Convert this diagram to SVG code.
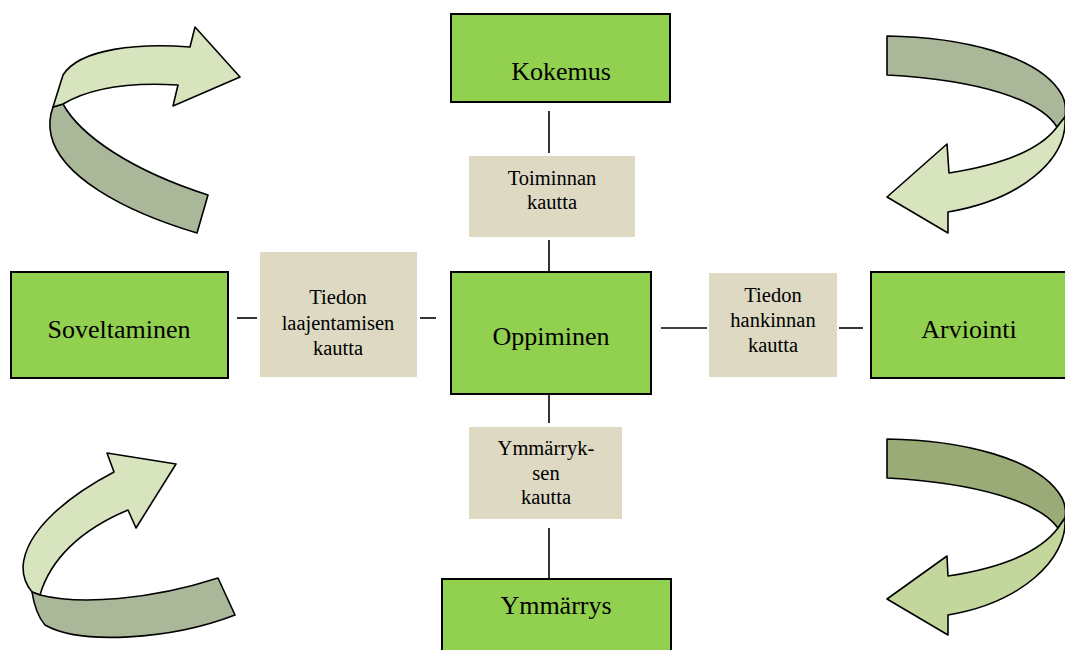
<svg xmlns="http://www.w3.org/2000/svg" width="1065" height="650" viewBox="0 0 1065 650">
<style>
.main{fill:#92d050;stroke:#000;stroke-width:2}
.lab{fill:#ddd9c3}
.mt{font-family:"Liberation Serif","Times New Roman",serif;font-size:26px;fill:#000;text-anchor:middle}
.lt{font-family:"Liberation Serif","Times New Roman",serif;font-size:20.5px;fill:#000;text-anchor:middle}
.con{stroke:#000;stroke-width:1.6;fill:none}
.ar{stroke:#000;stroke-width:1.6;stroke-linejoin:round}
.d1{fill:#aab899}
.l1{fill:#d7e4bd}
.d2{fill:#9bab78}
.l2{fill:#c3d69b}
</style>
<rect width="1065" height="650" fill="#fff"/>
<g id="connectors">
<line class="con" x1="549" y1="111" x2="549" y2="153"/>
<line class="con" x1="549" y1="240" x2="549" y2="272"/>
<line class="con" x1="237" y1="318" x2="257" y2="318"/>
<line class="con" x1="420" y1="318" x2="436" y2="318"/>
<line class="con" x1="661" y1="328" x2="707" y2="328"/>
<line class="con" x1="839" y1="328" x2="863" y2="328"/>
<line class="con" x1="549" y1="394" x2="549" y2="423"/>
<line class="con" x1="549" y1="528" x2="549" y2="579"/>
</g>
<g id="arrow-top-left">
<path class="ar d1" d="M53,107 L63,104 C80,135 130,170 208,195 L197,233 C120,210 60,175 51,135 C49,125 50,115 53,107 Z"/>
<path class="ar l1" d="M190,47 C140,43 80,48 63,75 L53,107 L63,104 C90,88 130,82 178,85 L173,106 L240,77 L195,27 Z"/>
</g>
<g id="arrow-top-right">
<path class="ar d1" d="M887,36 C960,37 1040,55 1062,95 C1066,103 1066,110 1065,117 L1057,127 C1040,100 980,80 887,75 Z"/>
<path class="ar l1" d="M1057,127 L1065,117 C1068,160 1020,200 948,212 L948,233 L887,197 L947,144 L949,173 C1000,165 1040,150 1057,127 Z"/>
</g>
<g id="arrow-bottom-left">
<path class="ar l1" d="M114,472 C70,495 25,530 23,567 C23,577 27,586 32,592 L40,595 C50,560 80,530 128,510 L136,528 L176,464 L107,453 Z"/>
<path class="ar d1" d="M32,592 L40,595 C80,605 150,600 218,578 L235,615 C170,640 80,645 45,625 C38,617 34,605 32,592 Z"/>
</g>
<g id="arrow-bottom-right">
<path class="ar d2" d="M887,439 C960,440 1040,458 1062,498 C1066,506 1066,512 1065,518 L1058,528 C1040,503 980,483 887,478 Z"/>
<path class="ar l2" d="M1058,528 L1065,518 C1068,560 1020,603 948,615 L948,635 L887,599 L947,556 L948,576 C1000,568 1040,552 1058,528 Z"/>
</g>
<g id="kokemus">
<rect class="main" x="451" y="14" width="219" height="88"/>
<text class="mt" x="561" y="80">Kokemus</text>
</g>
<g id="toiminnan">
<rect class="lab" x="469" y="156" width="166" height="81"/>
<text class="lt" x="552" y="185">Toiminnan</text>
<text class="lt" x="552" y="209">kautta</text>
</g>
<g id="oppiminen">
<rect class="main" x="451" y="272" width="200" height="122"/>
<text class="mt" x="551" y="345">Oppiminen</text>
</g>
<g id="soveltaminen">
<rect class="main" x="11" y="272" width="217" height="106"/>
<text class="mt" x="119" y="338">Soveltaminen</text>
</g>
<g id="laajentamisen">
<rect class="lab" x="260" y="252" width="157" height="125"/>
<text class="lt" x="338" y="304">Tiedon</text>
<text class="lt" x="338" y="330">laajentamisen</text>
<text class="lt" x="338" y="355">kautta</text>
</g>
<g id="hankinnan">
<rect class="lab" x="709" y="273" width="128" height="104"/>
<text class="lt" x="773" y="302">Tiedon</text>
<text class="lt" x="773" y="327">hankinnan</text>
<text class="lt" x="773" y="352">kautta</text>
</g>
<g id="arviointi">
<rect class="main" x="871" y="272" width="200" height="106"/>
<text class="mt" x="969" y="338">Arviointi</text>
</g>
<g id="ymmarryksen">
<rect class="lab" x="469" y="427" width="153" height="92"/>
<text class="lt" x="546" y="455">Ymmärryk-</text>
<text class="lt" x="546" y="480">sen</text>
<text class="lt" x="546" y="504">kautta</text>
</g>
<g id="ymmarrys">
<rect class="main" x="442" y="579" width="229" height="80"/>
<text class="mt" x="556" y="614">Ymmärrys</text>
</g>
</svg>
